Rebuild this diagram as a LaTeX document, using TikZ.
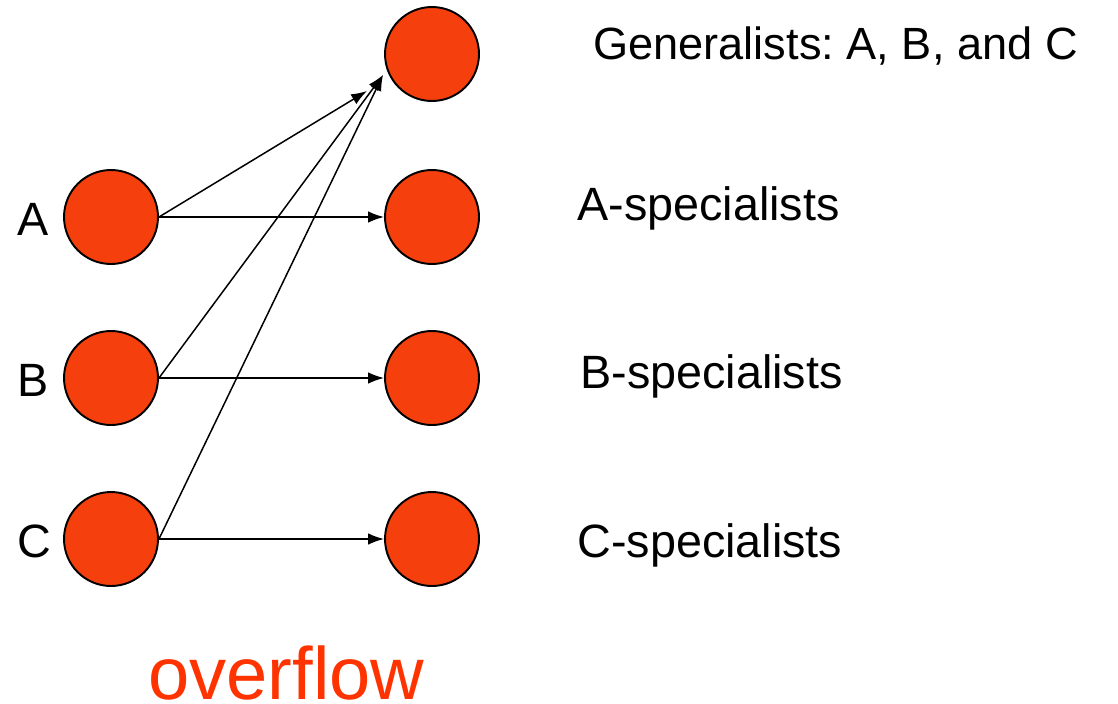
\documentclass[tikz,border=0pt]{standalone}
\usepackage{xcolor}
\usepackage{fontspec}
\setmainfont{Liberation Sans}
\usepackage{tikz}
\usetikzlibrary{positioning}
\usetikzlibrary{arrows.meta}
\definecolor{poolred}{RGB}{245,64,14}
\definecolor{overflowred}{RGB}{255,51,0}
\newcommand{\poolsize}{1.88cm}
\newcommand{\labelfont}{\fontsize{26.6}{30}\selectfont}
\newcommand{\genfont}{\fontsize{25.7}{30}\selectfont}
\newcommand{\bigfont}{\fontsize{42.2}{48}\selectfont}
\frenchspacing

\begin{document}
\begin{tikzpicture}[x=0.02cm, y=-0.02cm,
	pool/.style={circle, draw=black, line width=1.1pt, fill=poolred, minimum size=\poolsize, inner sep=0pt},
	txt/.style={anchor=base west, inner sep=0pt, font=\labelfont},
	arr/.style={line width=0.85pt, -{Latex[length=9pt, width=6.5pt]}}]
	\useasboundingbox (0,0) rectangle (1118,703);

	% left column
	\node[pool] (a) at (111,217) {};
	\node[pool] (b) at (111,378) {};
	\node[pool] (c) at (111,539) {};

	% right column
	\node[pool] (gen)   at (432,54)  {};
	\node[pool] (aspec) at (432,217) {};
	\node[pool] (bspec) at (432,378) {};
	\node[pool] (cspec) at (432,539) {};

	\coordinate (gena)  at (367,91);
	\coordinate (genbc) at (383,75);

	\draw[arr] (a.east) -- (aspec.west);
	\draw[arr] (b.east) -- (bspec.west);
	\draw[arr] (c.east) -- (cspec.west);
	\draw[arr] (a.east) -- (gena);
	\draw[arr] (b.east) -- (genbc);
	\draw[arr] (c.east) -- (genbc);

	\node[txt] (la) at (17,235) {A};
	\node[txt] (lb) at (17,396) {B};
	\node[txt] (lc) at (17,557) {C};

	\node[txt, font=\genfont] (tgen) at (593,59) {Generalists: A, B, and C};
	\node[txt] (taspec) at (577,220) {A-specialists};
	\node[txt] (tbspec) at (580,388) {B-specialists};
	\node[txt] (tcspec) at (577,557) {C-specialists};

	\node[txt, font=\bigfont, text=overflowred] (tover) at (148,699) {overflow};
\end{tikzpicture}
\end{document}
